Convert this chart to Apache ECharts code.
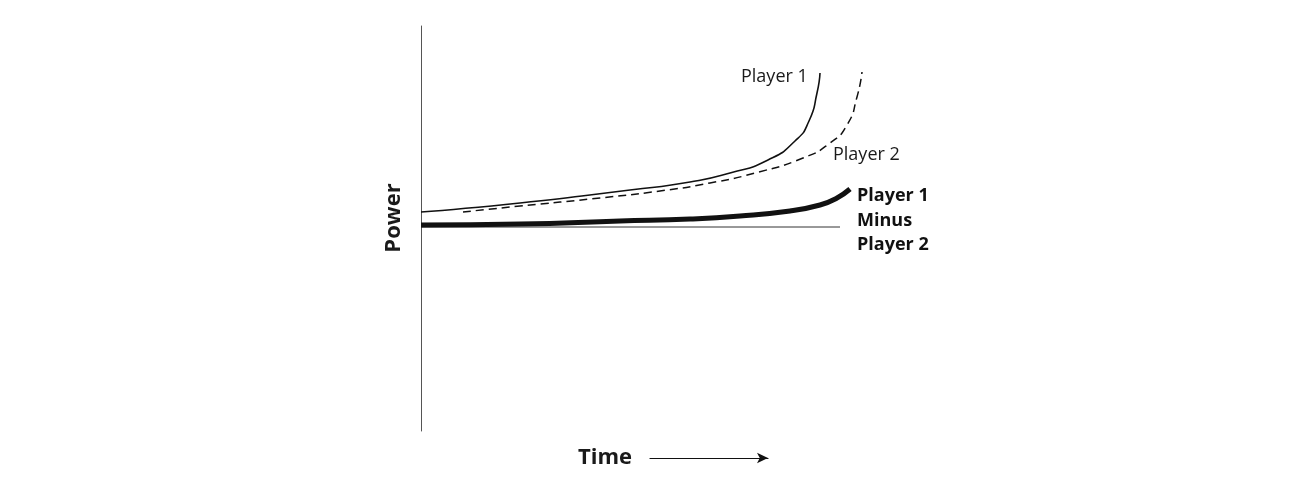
<!DOCTYPE html>
<html>
<head>
<meta charset="utf-8">
<script src="https://cdn.jsdelivr.net/npm/echarts@6/dist/echarts.min.js"></script>
<style>
html,body{margin:0;padding:0;background:#fff;}
#chart{width:1302px;height:500px;}
</style>
</head>
<body>
<div id="chart"></div>
<script>
// Time (x) and Power (y) readings for each curve
const player1 = [[0,15],[99,24],[209,37],[269,45],[309,54],[347,67],[374,86],[388,106],[396,134],[399,154]];
const player2 = [[42,15],[99,21],[179,29],[239,36],[289,44],[334,54],[382,69],[409,84],[426,102],[436,130],[441,155]];
const difference = [[0,2],[99,3],[199,6],[269,8],[319,11],[369,16],[399,22],[416,29],[429,38]];
const zeroLine = [[0,0],[419,0]];
const labels = {
  p1: 'Player 1',
  p2: 'Player 2',
  diff: ['Player 1', 'Minus', 'Player 2'],
  yName: 'Power',
  xName: 'Time'
};

const FONT = '"Open Sans", "DejaVu Sans", sans-serif';
const chart = echarts.init(document.getElementById('chart'), null, {renderer: 'canvas'});

const option = {
  backgroundColor: '#ffffff',
  animation: false,
  grid: [
    {left: 421, top: 26, width: 460, height: 405},
    {left: 650, top: 457, width: 118, height: 1}
  ],
  xAxis: [
    {gridIndex: 0, type: 'value', min: 0, max: 460, show: false},
    {
      gridIndex: 1, type: 'value', min: 0, max: 1,
      axisLine: {show: true, symbol: ['none', 'arrow'], symbolSize: [8, 11], lineStyle: {color: '#111', width: 1.2}},
      axisTick: {show: false}, axisLabel: {show: false}, splitLine: {show: false},
      name: labels.xName, nameLocation: 'start', nameGap: 18,
      nameTextStyle: {fontFamily: FONT, fontWeight: 'bold', fontSize: 22, color: '#1a1a1a', verticalAlign: 'middle', padding: [2, 0, 0, 0]}
    }
  ],
  yAxis: [
    {
      gridIndex: 0, type: 'value', min: -204, max: 201,
      axisLine: {show: true, onZero: false, lineStyle: {color: '#555', width: 1}},
      axisTick: {show: false}, axisLabel: {show: false}, splitLine: {show: false}
    },
    {gridIndex: 1, type: 'value', min: 0, max: 1, show: false}
  ],
  series: [
    {
      type: 'line', data: zeroLine, symbol: 'none', silent: true,
      lineStyle: {color: '#333', width: 1}
    },
    {
      name: 'Player 1', type: 'line', data: player1, symbol: 'none', smooth: 0.6,
      lineStyle: {color: '#111', width: 1.6}
    },
    {
      name: 'Player 2', type: 'line', data: player2, symbol: 'none', smooth: 0.6,
      lineStyle: {color: '#111', width: 1.5, type: [8, 5]}
    },
    {
      name: 'Player 1 Minus Player 2', type: 'line', data: difference, symbol: 'none', smooth: 0.5,
      lineStyle: {color: '#111', width: 5, cap: 'butt'}
    }
  ],
  graphic: [
    {type: 'text', x: 741, y: 77, style: {text: labels.p1, font: '18px ' + FONT, fill: '#1a1a1a', textVerticalAlign: 'middle'}},
    {type: 'text', x: 833, y: 155, style: {text: labels.p2, font: '18px ' + FONT, fill: '#1a1a1a', textVerticalAlign: 'middle'}},
    {type: 'text', x: 857, y: 196, style: {text: labels.diff[0], font: 'bold 18px ' + FONT, fill: '#111', textVerticalAlign: 'middle'}},
    {type: 'text', x: 857, y: 221, style: {text: labels.diff[1], font: 'bold 18px ' + FONT, fill: '#111', textVerticalAlign: 'middle'}},
    {type: 'text', x: 857, y: 245, style: {text: labels.diff[2], font: 'bold 18px ' + FONT, fill: '#111', textVerticalAlign: 'middle'}},
    {type: 'text', x: 394, y: 218, rotation: Math.PI / 2,
      style: {text: labels.yName, font: 'bold 22px ' + FONT, fill: '#1a1a1a', textAlign: 'center', textVerticalAlign: 'middle'}}
  ]
};
chart.setOption(option);
</script>
</body>
</html>
